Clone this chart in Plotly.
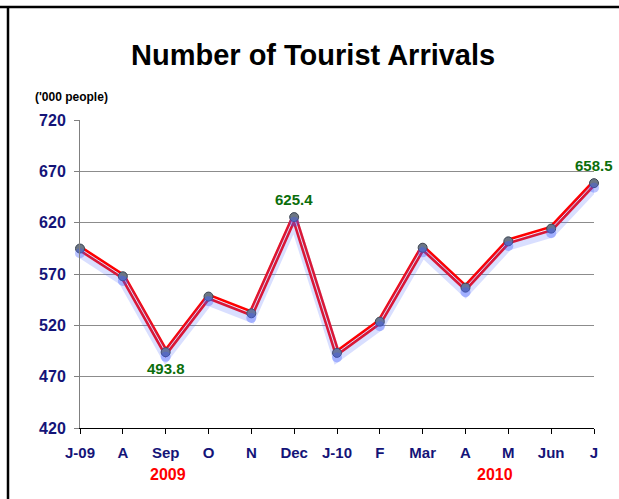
import plotly.graph_objects as go

months = ["J-09", "A", "Sep", "O", "N", "Dec", "J-10", "F", "Mar", "A", "M", "Jun", "J"]
arrivals = [594.8, 567.8, 493.8, 548.0, 531.7, 625.4, 493.2, 523.6, 595.6, 556.7, 601.8, 614.2, 658.5]
y_ticks = [420, 470, 520, 570, 620, 670, 720]
labelled = {2: ("493.8", "below"), 5: ("625.4", "above"), 12: ("658.5", "above")}
years = [("2009", 2.05), ("2010", 9.7)]

xs = list(range(len(months)))
FONT = "Liberation Sans, Arial, sans-serif"
NAVY = "#141478"

W, H = 619, 499
L, R, T, B = 80, 594, 120, 428
pw, ph = R - L, B - T


def px(x):
    return (x - L) / pw


def py(y):
    return (B - y) / ph


fig = go.Figure()
# glow / shadow (same data, drawn on a slightly shifted overlay axis)
fig.add_trace(go.Scatter(x=xs, y=arrivals, yaxis="y2", mode="lines",
                         line=dict(color="rgba(80,110,255,0.22)", width=9),
                         hoverinfo="skip", cliponaxis=False, showlegend=False))
fig.add_trace(go.Scatter(x=xs, y=arrivals, yaxis="y2", mode="markers",
                         marker=dict(color="rgba(60,90,255,0.35)", size=10),
                         hoverinfo="skip", cliponaxis=False, showlegend=False))
fig.add_trace(go.Scatter(x=xs, y=arrivals, mode="lines",
                         line=dict(color="#ff0000", width=6),
                         cliponaxis=False, showlegend=False))
fig.add_trace(go.Scatter(x=xs, y=arrivals, mode="lines",
                         line=dict(color="#ffffff", width=1),
                         cliponaxis=False, showlegend=False))
fig.add_trace(go.Scatter(x=xs, y=arrivals, mode="markers",
                         marker=dict(color="#6c7684", size=9,
                                     line=dict(color="#3c4654", width=1)),
                         cliponaxis=False, showlegend=False))

for i, (txt, pos) in labelled.items():
    fig.add_annotation(x=xs[i], y=arrivals[i], text=f"<b>{txt}</b>", showarrow=False,
                       yshift=(-16 if pos == "below" else 18),
                       font=dict(family=FONT, size=15, color="#0b6e0b"))

for txt, xpos in years:
    fig.add_annotation(x=xpos, y=py(474), yref="paper", yanchor="middle",
                       text=f"<b>{txt}</b>", showarrow=False,
                       font=dict(family=FONT, size=16, color="#ff0000"))

fig.add_annotation(x=px(313), xref="paper", y=py(55), yref="paper", yanchor="middle",
                   text="<b>Number of Tourist Arrivals</b>",
                   showarrow=False, font=dict(family=FONT, size=29, color="#000000"))
fig.add_annotation(x=px(33), xref="paper", xanchor="left", y=py(97), yref="paper",
                   yanchor="middle", text="<b>('000 people)</b>", showarrow=False,
                   font=dict(family=FONT, size=12, color="#000000"))

# frame (top and left border)
fig.add_shape(type="line", xref="paper", yref="paper", x0=px(0), x1=px(W), y0=py(7), y1=py(7),
              line=dict(color="#000000", width=2.5))
fig.add_shape(type="line", xref="paper", yref="paper", x0=px(8), x1=px(8), y0=py(6), y1=py(H),
              line=dict(color="#000000", width=2.5))

fig.update_layout(
    width=W, height=H,
    margin=dict(l=L, r=W - R, t=T, b=H - B),
    paper_bgcolor="#ffffff", plot_bgcolor="#ffffff",
    font=dict(family=FONT, color=NAVY),
    xaxis=dict(range=[0, 12], tickvals=xs, ticktext=[f"<b>{m}</b>" for m in months],
               tickfont=dict(family=FONT, size=15, color=NAVY), ticklabelstandoff=6,
               showgrid=False, zeroline=False, showline=True, linecolor="#000000", linewidth=1,
               ticks="outside", ticklen=5, tickcolor="#000000"),
    yaxis=dict(range=[420, 720], tickvals=y_ticks, ticktext=[f"<b>{v}</b>" for v in y_ticks],
               tickfont=dict(family=FONT, size=16, color=NAVY), ticklabelstandoff=5,
               showgrid=True, gridcolor="#8c8c8c", gridwidth=1, zeroline=False,
               showline=True, linecolor="#808080", linewidth=1,
               ticks="outside", ticklen=5, tickcolor="#808080"),
    yaxis2=dict(range=[424.5, 724.5], overlaying="y", visible=False),
)

fig.write_html("out.html", config={"displayModeBar": False},
               post_script="document.body.style.margin='0';document.body.style.overflow='hidden';")
